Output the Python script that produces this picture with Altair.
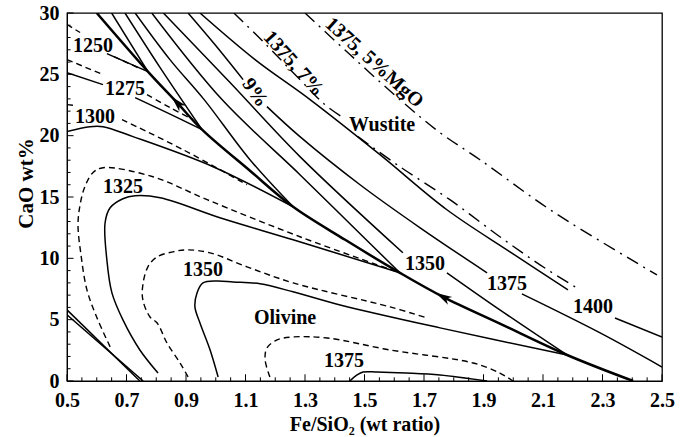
import altair as alt
import pandas as pd

# ---------------- curve data (Fe/SiO2 ratio, CaO wt%) ----------------
# olivine / wustite boundary (thick line with arrows)
bnd_x = [0.600, 0.772, 0.870, 0.954, 1.115, 1.260, 1.435, 1.619, 1.764, 1.955, 2.181, 2.403]
bnd_y = [30.0, 25.22, 22.69, 20.49, 17.14, 14.20, 11.51, 8.82, 6.86, 4.68, 2.12, 0.0]

# wustite-field isotherms (solid)
w1250_x = [0.650, 0.772]
w1250_y = [30.0, 25.22]
w1275_x = [0.695, 0.813, 0.954]
w1275_y = [30.0, 25.55, 20.49]
w1300_x = [0.729, 0.846, 0.961, 1.115, 1.260]
w1300_y = [30.0, 26.20, 22.94, 18.04, 14.20]
w1325_x = [0.785, 1.021, 1.283, 1.451, 1.619]
w1325_y = [30.0, 22.94, 16.82, 12.82, 8.82]
w1350a_x = [0.824, 1.048, 1.283, 1.629]
w1350a_y = [30.0, 24.33, 18.29, 10.45]
w1350b_x = [1.777, 1.955, 2.181]
w1350b_y = [8.82, 5.80, 2.12]
w1375a_x = [0.907, 0.997, 1.092]
w1375a_y = [30.0, 27.43, 24.57]
w1375b_x = [1.172, 1.283, 1.485, 1.687, 1.912]
w1375b_y = [22.37, 19.92, 16.0, 12.49, 8.82]
w1375c_x = [2.029, 2.292, 2.5]
w1375c_y = [7.10, 3.92, 1.14]
w1400a_x = [0.947, 1.132, 1.317, 1.552, 1.777, 1.989, 2.184]
w1400a_y = [30.0, 26.20, 22.94, 18.45, 13.96, 10.53, 7.43]
w1400b_x = [2.342, 2.5]
w1400b_y = [5.14, 3.59]

# dash-dot isotherms (1375 at 7% and 5% MgO)
dd7a_x = [1.061, 1.159, 1.283, 1.367, 1.428]
dd7a_y = [30.0, 27.67, 24.57, 22.53, 21.47]
dd7b_x = [1.478, 1.619, 1.787, 1.955, 2.090, 2.208]
dd7b_y = [19.92, 17.47, 14.78, 11.76, 9.47, 7.67]
dd5_x = [1.300, 1.451, 1.619, 1.754, 1.888, 2.134, 2.483]
dd5_y = [30.0, 26.61, 22.94, 20.24, 18.04, 13.80, 8.65]

# olivine-field isotherms, solid
s1250_x = [0.634, 0.772]
s1250_y = [26.69, 25.22]
s1275a_x = [0.5, 0.621]
s1275a_y = [25.14, 24.16]
s1275b_x = [0.729, 0.836, 0.954]
s1275b_y = [23.10, 21.88, 20.49]
s1300_x = [0.5, 0.577, 0.621, 0.722, 0.991, 1.260]
s1300_y = [20.33, 20.73, 20.73, 19.92, 17.47, 14.20]
s1325_x = [0.806, 0.745, 0.688, 0.651, 0.634, 0.628, 0.645, 0.688, 0.729, 0.813, 1.014, 1.260, 1.619]
s1325_y = [0.65, 2.53, 4.98, 7.18, 9.88, 12.90, 14.12, 14.86, 15.10, 14.94, 13.31, 11.51, 8.82]
s1350_x = [1.008, 0.981, 0.947, 0.930, 0.937, 0.957, 1.004, 1.058, 1.149, 1.260, 1.418, 1.754, 2.181]
s1350_y = [0.33, 2.53, 4.73, 6.04, 7.18, 8.0, 8.16, 8.08, 7.92, 7.27, 6.2, 4.33, 2.12]
s1375_x = [1.451, 1.475, 1.495, 1.543, 1.640, 1.754, 1.912]
s1375_y = [0.0, 0.49, 0.73, 0.73, 0.65, 0.49, 0.0]
dbl1_x = [0.5, 0.745]
dbl1_y = [5.8, 0.0]
dbl2_x = [0.5, 0.756]
dbl2_y = [5.4, 0.0]

# olivine-field isotherms, dashed
d1250a_x = [0.5, 0.544]
d1250a_y = [29.06, 28.41]
d1250b_x = [0.658, 0.745]
d1250b_y = [26.45, 25.47]
d1275a_x = [0.5, 0.621]
d1275a_y = [26.20, 24.98]
d1275b_x = [0.769, 0.846, 0.924]
d1275b_y = [23.35, 22.29, 21.31]
d1300a_x = [0.5, 0.530]
d1300a_y = [22.53, 22.45]
d1300b_x = [0.685, 0.890, 1.105]
d1300b_y = [21.31, 18.86, 16.0]
d1325_x = [0.645, 0.601, 0.567, 0.547, 0.537, 0.544, 0.560, 0.587, 0.621, 0.789, 0.971, 1.283, 1.619]
d1325_y = [2.78, 5.14, 7.43, 10.29, 12.73, 14.37, 15.84, 16.98, 17.39, 16.65, 14.78, 11.76, 8.82]
d1350_x = [0.907, 0.880, 0.836, 0.803, 0.779, 0.755, 0.755, 0.772, 0.803, 0.856, 0.903, 0.981, 1.105, 1.260, 1.586, 1.710]
d1350_y = [0.33, 1.47, 3.10, 4.73, 5.22, 6.61, 7.84, 9.31, 10.12, 10.53, 10.69, 10.45, 9.31, 8.0, 6.04, 5.14]
d1375_x = [1.182, 1.166, 1.172, 1.206, 1.260, 1.374, 1.586, 1.865, 1.955, 1.999]
d1375_y = [0.33, 1.71, 2.69, 3.35, 3.59, 3.51, 2.53, 1.47, 0.65, 0.0]

# labels
lab_text = ["1250", "1275", "1300", "1325", "1350", "Olivine", "1375",
            "1350", "1375", "1400", "Wustite", "9%", "1375, 7%", "1375, 5%MgO"]
lab_x = [0.587, 0.695, 0.594, 0.688, 0.957, 1.233, 1.431,
         1.703, 1.979, 2.268, 1.559, 1.132, 1.262, 1.533]
lab_y = [27.35, 23.84, 21.55, 15.84, 9.06, 5.14, 1.63,
         9.55, 7.92, 6.04, 20.90, 23.51, 25.88, 25.96]
lab_angle = [0, 0, 0, 0, 0, 0, 0, 0, 0, 0, 0, 55, 48, 42]

# arrows on the boundary
arr_x = [0.870, 1.764]
arr_y = [22.69, 6.86]
arr_angle = [317, 299]

# axis ticks
x_major = [0.5, 0.7, 0.9, 1.1, 1.3, 1.5, 1.7, 1.9, 2.1, 2.3, 2.5]
x_minor = [round(0.5 + 0.05 * i, 2) for i in range(41)]
y_major = [0, 5, 10, 15, 20, 25, 30]
y_minor = list(range(0, 31))

# ---------------- build tables ----------------
curves = [
    ("bnd", "thick", bnd_x, bnd_y),
    ("w1250", "solid", w1250_x, w1250_y),
    ("w1275", "solid", w1275_x, w1275_y),
    ("w1300", "solid", w1300_x, w1300_y),
    ("w1325", "solid", w1325_x, w1325_y),
    ("w1350a", "solid", w1350a_x, w1350a_y),
    ("w1350b", "solid", w1350b_x, w1350b_y),
    ("w1375a", "solid", w1375a_x, w1375a_y),
    ("w1375b", "solid", w1375b_x, w1375b_y),
    ("w1375c", "solid", w1375c_x, w1375c_y),
    ("w1400a", "solid", w1400a_x, w1400a_y),
    ("w1400b", "solid", w1400b_x, w1400b_y),
    ("dd7a", "dashdot", dd7a_x, dd7a_y),
    ("dd7b", "dashdot", dd7b_x, dd7b_y),
    ("dd5", "dashdot", dd5_x, dd5_y),
    ("s1250", "solid", s1250_x, s1250_y),
    ("s1275a", "solid", s1275a_x, s1275a_y),
    ("s1275b", "solid", s1275b_x, s1275b_y),
    ("s1300", "solid", s1300_x, s1300_y),
    ("s1325", "solid", s1325_x, s1325_y),
    ("s1350", "solid", s1350_x, s1350_y),
    ("s1375", "solid", s1375_x, s1375_y),
    ("dbl1", "solid", dbl1_x, dbl1_y),
    ("dbl2", "solid", dbl2_x, dbl2_y),
    ("d1250a", "dashed", d1250a_x, d1250a_y),
    ("d1250b", "dashed", d1250b_x, d1250b_y),
    ("d1275a", "dashed", d1275a_x, d1275a_y),
    ("d1275b", "dashed", d1275b_x, d1275b_y),
    ("d1300a", "dashed", d1300a_x, d1300a_y),
    ("d1300b", "dashed", d1300b_x, d1300b_y),
    ("d1325", "dashed", d1325_x, d1325_y),
    ("d1350", "dashed", d1350_x, d1350_y),
    ("d1375", "dashed", d1375_x, d1375_y),
]
rows = []
for name, style, xs, ys in curves:
    for i, (x, y) in enumerate(zip(xs, ys)):
        rows.append({"seg": name, "style": style, "i": i, "x": x, "y": y})
df = pd.DataFrame(rows)

labels = pd.DataFrame({"t": lab_text, "x": lab_x, "y": lab_y, "a": lab_angle})
arrows = pd.DataFrame({"x": arr_x, "y": arr_y, "a": arr_angle})

tick_rows = []
for v in x_major:
    tick_rows.append({"x": v, "x2": v, "y": 0.0, "y2": 0.55})
for v in x_minor:
    if v not in x_major:
        tick_rows.append({"x": v, "x2": v, "y": 0.0, "y2": 0.3})
for v in y_major:
    tick_rows.append({"x": 0.5, "x2": 0.522, "y": v, "y2": v})
for v in y_minor:
    if v not in y_major:
        tick_rows.append({"x": 0.5, "x2": 0.512, "y": v, "y2": v})
ticks = pd.DataFrame(tick_rows)

FONT = "Liberation Serif"
xsc = alt.Scale(domain=[0.5, 2.5], nice=False, zero=False)
ysc = alt.Scale(domain=[0, 30], nice=False, zero=False)

xaxis = alt.Axis(values=x_major, format=".1f", ticks=False, grid=False,
                 title="Fe/SiO\u2082 (wt ratio)", labelFont=FONT, labelFontSize=20,
                 labelFontWeight="bold", labelColor="black", labelPadding=9,
                 titleFont=FONT, titleFontSize=20, titleFontWeight="bold",
                 titleColor="black", titlePadding=4, domainColor="black",
                 labelFlush=False)
yaxis = alt.Axis(values=y_major, ticks=False, grid=False, title="CaO wt%",
                 labelFont=FONT, labelFontSize=20, labelFontWeight="bold",
                 labelColor="black", labelPadding=8, titleFont=FONT,
                 titleFontSize=21, titleFontWeight="bold", titleColor="black",
                 titleX=-31, titleY=170, titleBaseline="bottom",
                 domainColor="black", labelFlush=False)

X = alt.X("x:Q", scale=xsc, axis=xaxis, title="Fe/SiO\u2082 (wt ratio)")
Y = alt.Y("y:Q", scale=ysc, axis=yaxis, title="CaO wt%")

base = alt.Chart(ticks).mark_rule(color="black", strokeWidth=1).encode(
    x=X, x2="x2:Q", y=Y, y2="y2:Q",
)


def line_layer(style, **kw):
    return alt.Chart(df).transform_filter(alt.datum.style == style).mark_line(
        interpolate="catmull-rom", clip=True, color="black", **kw
    ).encode(x=X, y=Y, detail="seg:N", order="i:Q")


solid = line_layer("solid", strokeWidth=1.5)
thick = line_layer("thick", strokeWidth=2.5)
dashed = line_layer("dashed", strokeWidth=1.4, strokeDash=[6, 4])
dashdot = line_layer("dashdot", strokeWidth=1.4, strokeDash=[13, 6, 2, 6])

text = alt.Chart(labels).mark_text(
    font=FONT, fontSize=20, fontWeight="bold", color="black",
    align="center", baseline="middle"
).encode(
    x=X, y=Y, text="t:N",
    angle=alt.Angle("a:Q", scale=None),
)

arrow = alt.Chart(arrows).mark_point(
    shape="M0,-1L0.55,1L0,0.45L-0.55,1Z", filled=True, color="black",
    size=260, opacity=1
).encode(
    x=X, y=Y,
    angle=alt.Angle("a:Q", scale=None),
)

chart = alt.layer(base, solid, thick, dashed, dashdot, text, arrow).properties(
    width=595, height=368,
    autosize=alt.AutoSizeParams(type="none"),
    padding={"left": 67, "top": 13, "right": 27, "bottom": 56},
    background="white",
).configure_view(stroke="black", strokeWidth=1.3)

chart.save("out.html", embed_options={"renderer": "svg", "actions": False})
